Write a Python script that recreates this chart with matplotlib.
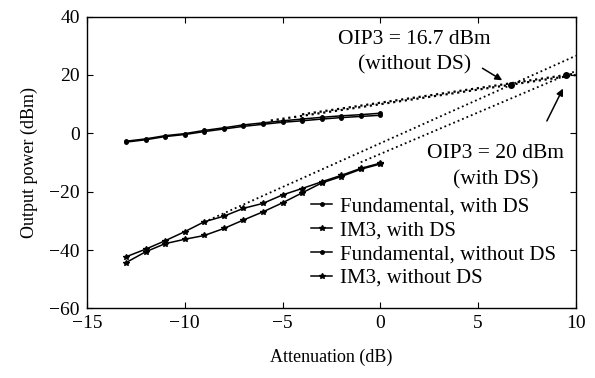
import numpy as np
import matplotlib
matplotlib.use("Agg")
import matplotlib.pyplot as plt

plt.rcParams['font.family'] = ['Liberation Serif', 'DejaVu Serif']

# Attenuation points (dB)
atten = [-13, -12, -11, -10, -9, -8, -7, -6, -5, -4, -3, -2, -1, 0]

# Output power (dBm)
fund_ds = [-3.0, -2.2, -1.1, -0.4, 0.6, 1.5, 2.4, 3.1, 3.8, 4.3, 4.9, 5.4, 5.8, 6.2]
im3_ds = [-44.3, -40.6, -37.8, -36.3, -35.0, -32.6, -29.7, -26.9, -23.8, -20.4, -17.0, -14.8, -12.3, -10.5]
fund_nods = [-2.7, -1.9, -0.8, -0.1, 1.0, 1.9, 2.9, 3.6, 4.3, 4.9, 5.5, 6.0, 6.4, 6.9]
im3_nods = [-42.3, -39.7, -36.8, -33.7, -30.3, -28.4, -25.7, -24.0, -21.1, -18.9, -16.6, -14.4, -12.0, -10.2]

# extrapolation lines (x endpoints, y endpoints)
fit_fund_nods_x = [-5.6, 10]
fit_fund_nods_y = [4.4, 20.0]
fit_fund_ds_x = [-4.0, 10]
fit_fund_ds_y = [6.5, 20.5]
fit_im3_nods_x = [-9.0, 10]
fit_im3_nods_y = [-30.4, 26.6]
fit_im3_ds_x = [-1.0, 10]
fit_im3_ds_y = [-9.9, 21.4]

# OIP3 intercept points
oip3_x = [6.7, 9.5]
oip3_y = [16.7, 20.0]

fig = plt.figure(figsize=(5.95, 3.78), dpi=100)
ax = fig.add_axes([0.146, 0.184, 0.822, 0.772])

ax.plot(atten, fund_ds, '-', color='k', lw=1.1, marker='.', ms=5, label='Fundamental, with DS')
ax.plot(atten, im3_ds, '-', color='k', lw=1.1, marker='*', ms=4, label='IM3, with DS')
ax.plot(atten, fund_nods, '-', color='k', lw=1.1, marker='.', ms=5, label='Fundamental, without DS')
ax.plot(atten, im3_nods, '-', color='k', lw=1.1, marker='*', ms=4, label='IM3, without DS')

ax.plot(fit_fund_nods_x, fit_fund_nods_y, ':', color='k', lw=1.6)
ax.plot(fit_fund_ds_x, fit_fund_ds_y, ':', color='k', lw=1.6)
ax.plot(fit_im3_nods_x, fit_im3_nods_y, ':', color='k', lw=1.3)
ax.plot(fit_im3_ds_x, fit_im3_ds_y, ':', color='k', lw=1.3)
ax.plot(oip3_x, oip3_y, 'o', color='k', ms=4)

ax.annotate('', xy=(6.35, 17.7), xytext=(5.1, 22.8),
            arrowprops=dict(arrowstyle='-|>', color='k', lw=1.1, mutation_scale=10))
ax.annotate('', xy=(9.4, 16.2), xytext=(8.45, 3.4),
            arrowprops=dict(arrowstyle='-|>', color='k', lw=1.1, mutation_scale=10))
ax.text(1.75, 32, 'OIP3 = 16.7 dBm', ha='center', va='center', fontsize=15.5)
ax.text(1.75, 23.5, '(without DS)', ha='center', va='center', fontsize=15.5)
ax.text(5.9, -6.9, 'OIP3 = 20 dBm', ha='center', va='center', fontsize=15.5)
ax.text(5.9, -16, '(with DS)', ha='center', va='center', fontsize=15.5)

ax.set_xlim(-15, 10)
ax.set_ylim(-60, 40)
ax.set_xticks([-15, -10, -5, 0, 5, 10])
ax.set_yticks([-60, -40, -20, 0, 20, 40])
ax.set_xticklabels(['\u221215', '\u221210', '\u22125', '0', '5', '10'])
ax.set_yticklabels(['\u221260', '\u221240', '\u221220', '0', '20', '40'])
ax.tick_params(direction='in', top=True, right=True, labelsize=14, length=4, pad=5)
for s in ax.spines.values():
    s.set_linewidth(1.0)

ax.set_xlabel('Attenuation (dB)', fontsize=13, labelpad=12)
ax.set_ylabel('Output power (dBm)', fontsize=13, labelpad=8)

ax.legend(loc='lower right', bbox_to_anchor=(0.99, 0.02), frameon=False, fontsize=15,
          handlelength=1.0, handletextpad=0.4, labelspacing=0.2, borderaxespad=0.3)

fig.savefig('out.png', dpi=100)
